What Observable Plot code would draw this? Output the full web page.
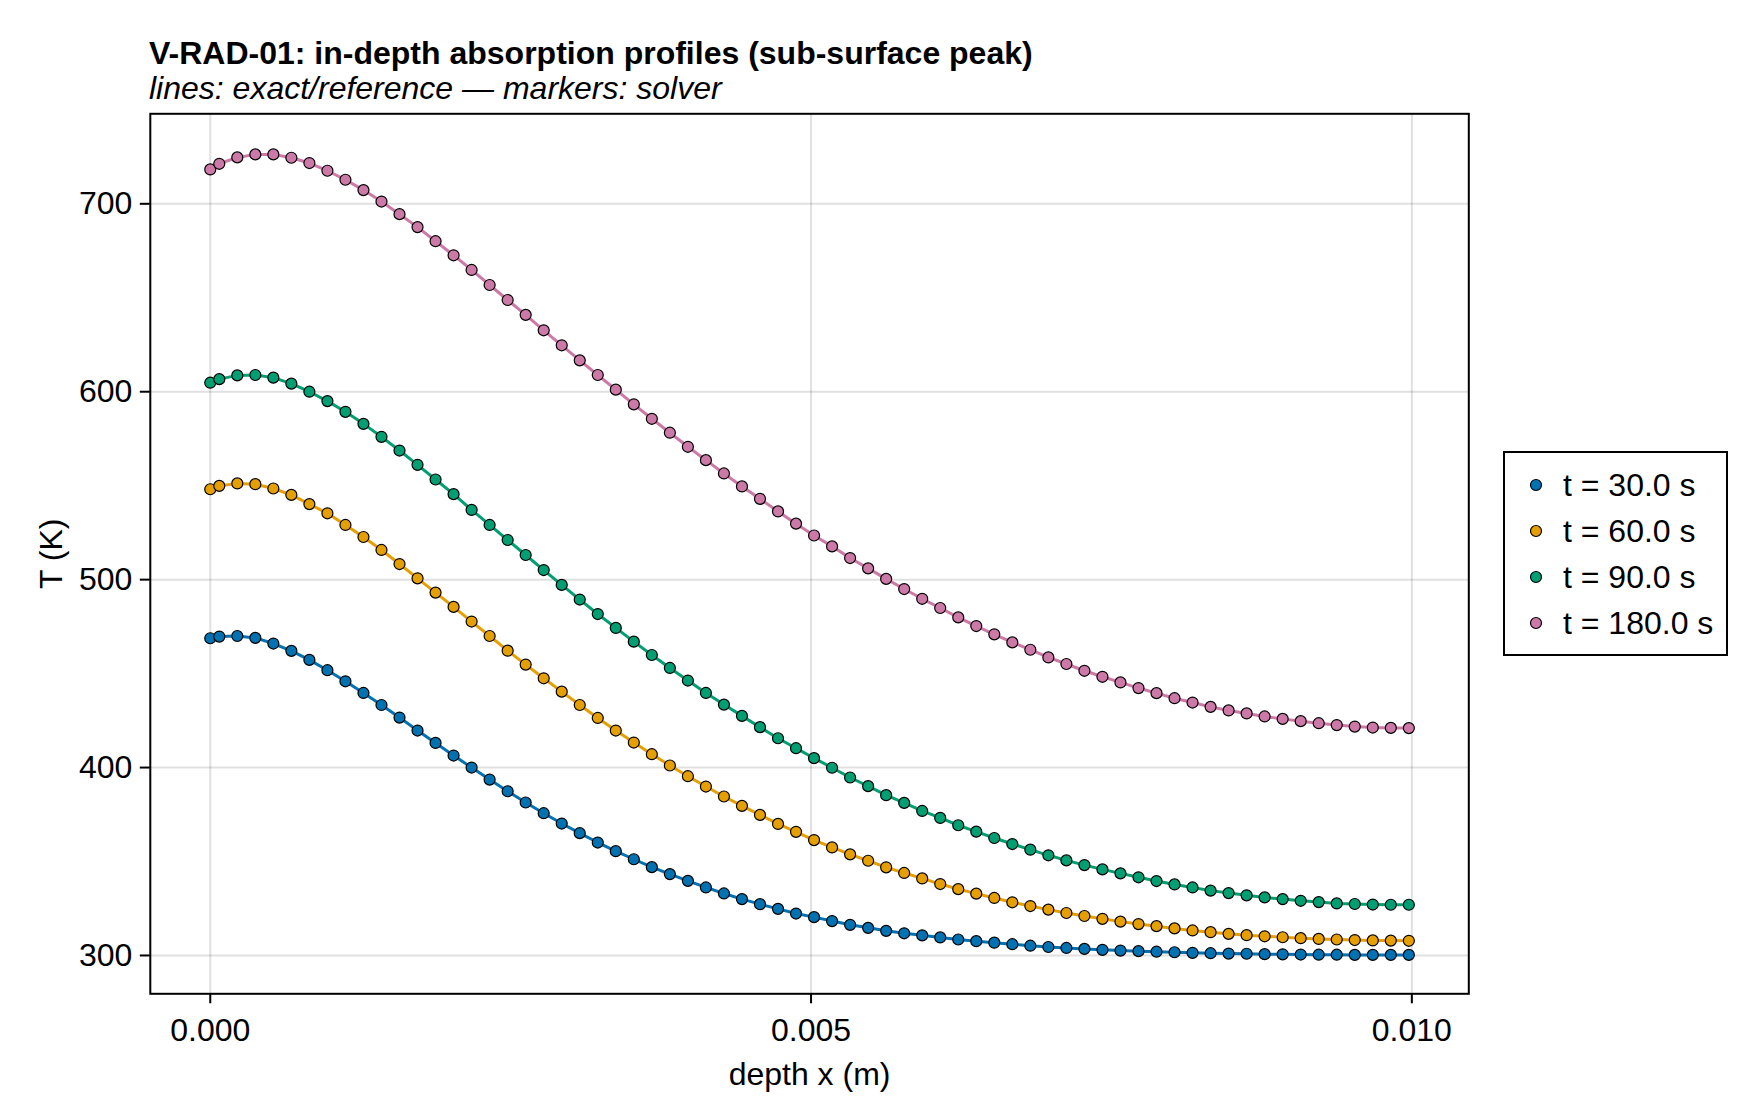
<!DOCTYPE html>
<html><head><meta charset="utf-8">
<script src="https://cdn.jsdelivr.net/npm/d3@7"></script>
<script src="https://cdn.jsdelivr.net/npm/@observablehq/plot@0.6"></script>
<style>
body{margin:0;background:#fff;font-family:"Liberation Sans",Arial,Helvetica,sans-serif;color:#000;}
#wrap{position:relative;width:1760px;height:1120px;overflow:hidden;background:#fff;}
.title{position:absolute;left:149px;top:37px;font-size:32px;line-height:32px;font-weight:bold;white-space:nowrap;}
.subtitle{position:absolute;left:149px;top:72px;font-size:32px;line-height:32px;font-style:italic;white-space:nowrap;}
#chart{position:absolute;left:0;top:100px;}
#legend{position:absolute;left:1503px;top:451px;width:221px;height:201px;border:2px solid #000;background:#fff;}
.item{position:absolute;left:0;width:221px;height:32px;}
.item svg{position:absolute;left:23px;top:8px;}
.item span{position:absolute;left:58px;top:0;font-size:32px;line-height:32px;white-space:nowrap;}
</style></head>
<body>
<div id="wrap">
  <div class="title">V-RAD-01: in-depth absorption profiles (sub-surface peak)</div>
  <div class="subtitle">lines: exact/reference — markers: solver</div>
  <div id="chart"></div>
  <div id="legend"></div>
</div>
<script>
// depth positions (m)
const xs = [0,
0.000075, 0.000225, 0.000375, 0.000525, 0.000675, 0.000825, 0.000975, 0.001125, 0.001275, 0.001425,
0.001575, 0.001725, 0.001875, 0.002025, 0.002175, 0.002325, 0.002475, 0.002625, 0.002775, 0.002925,
0.003075, 0.003225, 0.003375, 0.003525, 0.003675, 0.003825, 0.003975, 0.004125, 0.004275, 0.004425,
0.004575, 0.004725, 0.004875, 0.005025, 0.005175, 0.005325, 0.005475, 0.005625, 0.005775, 0.005925,
0.006075, 0.006225, 0.006375, 0.006525, 0.006675, 0.006825, 0.006975, 0.007125, 0.007275, 0.007425,
0.007575, 0.007725, 0.007875, 0.008025, 0.008175, 0.008325, 0.008475, 0.008625, 0.008775, 0.008925,
0.009075, 0.009225, 0.009375, 0.009525, 0.009675, 0.009825, 0.009975];

// temperatures (K)
const T30 = [
468.8, 469.7, 470.0, 469.0, 466.0, 462.1, 457.3, 451.8, 445.9, 439.7,
433.3, 426.6, 419.7, 413.1, 406.4, 400.0, 393.6, 387.4, 381.4, 375.7,
370.2, 365.1, 360.1, 355.5, 351.2, 347.0, 343.3, 339.7, 336.2, 333.0,
330.0, 327.3, 324.8, 322.3, 320.4, 318.3, 316.3, 314.7, 313.1, 311.8,
310.7, 309.6, 308.5, 307.6, 306.8, 306.0, 305.2, 304.5, 304.0, 303.5,
303.0, 302.6, 302.3, 302.0, 301.7, 301.4, 301.2, 301.0, 300.9, 300.7,
300.6, 300.5, 300.4, 300.4, 300.3, 300.3, 300.3, 300.3];
const T60 = [
548.1, 549.9, 551.2, 550.8, 548.5, 545.1, 540.2, 535.3, 529.1, 522.7,
515.8, 508.3, 500.7, 493.1, 485.5, 477.7, 470.0, 462.2, 454.8, 447.5,
440.4, 433.3, 426.4, 419.7, 413.3, 407.1, 401.1, 395.4, 389.9, 384.6,
379.6, 374.8, 370.0, 365.8, 361.4, 357.5, 353.8, 350.4, 346.9, 343.9,
341.0, 338.0, 335.3, 332.9, 330.6, 328.3, 326.3, 324.4, 322.6, 321.0,
319.5, 318.0, 316.7, 315.6, 314.4, 313.3, 312.4, 311.5, 310.8, 310.2,
309.7, 309.2, 308.8, 308.5, 308.2, 308.0, 307.9, 307.8];
const T90 = [
604.8, 606.7, 608.7, 608.9, 607.5, 604.3, 600.0, 595.0, 589.3, 582.9,
576.0, 568.7, 561.1, 553.3, 545.5, 537.1, 529.1, 521.1, 513.1, 505.1,
497.2, 489.4, 481.7, 474.3, 467.0, 459.9, 453.0, 446.3, 439.7, 433.5,
427.5, 421.5, 415.6, 410.3, 405.0, 399.9, 394.7, 390.1, 385.3, 381.2,
376.9, 373.2, 369.3, 365.9, 362.5, 359.3, 356.3, 353.3, 350.6, 348.1,
345.8, 343.7, 341.6, 339.6, 337.8, 336.2, 334.5, 333.2, 332.0, 330.9,
330.0, 329.1, 328.4, 327.7, 327.4, 327.1, 327.0, 327.0];
const T180 = [
718.3, 721.3, 724.7, 726.3, 726.3, 724.5, 721.7, 717.6, 712.8, 707.3,
701.2, 694.5, 687.6, 680.1, 672.6, 664.8, 656.8, 648.8, 640.9, 632.7,
624.7, 616.7, 608.9, 601.1, 593.3, 585.6, 578.2, 570.7, 563.6, 556.5,
549.6, 543.0, 536.3, 529.8, 523.5, 517.7, 511.5, 506.0, 500.4, 495.0,
489.8, 484.9, 479.9, 475.3, 470.9, 466.6, 462.7, 458.6, 455.1, 451.5,
448.3, 445.3, 442.3, 439.6, 436.9, 434.6, 432.3, 430.4, 428.8, 427.2,
425.9, 424.7, 423.6, 422.6, 421.8, 421.3, 421.1, 421.0];

const seriesLabels = ["t = 30.0 s", "t = 60.0 s", "t = 90.0 s", "t = 180.0 s"];
const seriesValues = [T30, T60, T90, T180];
const seriesColors = ["#0072B2", "#E69F00", "#009E73", "#CC79A7"];
const xTicks = [0, 0.005, 0.010];
const yTicks = [300, 400, 500, 600, 700];

const rows = seriesValues.flatMap((vals, s) =>
  vals.map((T, i) => ({x: xs[i], T, series: seriesLabels[s]})));

const FONT = '"Liberation Sans", Arial, Helvetica, sans-serif';

const chart = Plot.plot({
  width: 1760,
  height: 1020,
  marginTop: 13.3,
  marginBottom: 126.7,
  marginLeft: 149.8,
  marginRight: 291.7,
  style: {fontFamily: FONT, fontSize: "32px", background: "transparent", color: "#000", overflow: "visible"},
  x: {domain: [-0.000499, 0.010474]},
  y: {domain: [279.6, 747.9]},
  color: {domain: seriesLabels, range: seriesColors},
  marks: [
    Plot.gridX(xTicks, {stroke: "#000", strokeOpacity: 0.12, strokeWidth: 2}),
    Plot.gridY(yTicks, {stroke: "#000", strokeOpacity: 0.12, strokeWidth: 2}),
    Plot.line(rows, {x: "x", y: "T", z: "series", stroke: "series", strokeWidth: 3}),
    Plot.dot(rows, {x: "x", y: "T", fill: "series", stroke: "#000", strokeWidth: 1.2, r: 5.5}),
    Plot.frame({stroke: "#000", strokeWidth: 2}),
    Plot.axisX(xTicks, {tickSize: 10, tickPadding: 14, tickFormat: d3.format(".3f"), fontSize: 32, label: null, strokeWidth: 2}),
    Plot.axisY(yTicks, {tickSize: 10, tickPadding: 8, tickFormat: d3.format("d"), fontSize: 32, label: null, strokeWidth: 2}),
    Plot.text(["depth x (m)"], {text: d => d, frameAnchor: "bottom", lineAnchor: "middle", textAnchor: "middle", dy: 81, fontSize: 32}),
    Plot.text(["T (K)"], {text: d => d, frameAnchor: "left", lineAnchor: "middle", textAnchor: "middle", dx: -99, rotate: -90, fontSize: 32})
  ]
});
document.getElementById("chart").appendChild(chart);

// legend
const legend = document.getElementById("legend");
seriesLabels.forEach((lab, i) => {
  const item = document.createElement("div");
  item.className = "item";
  item.style.top = (32 + 45.9 * i - 16) + "px";
  item.innerHTML = `<svg width="16" height="16"><circle cx="8" cy="8" r="5.5" fill="${seriesColors[i]}" stroke="#000" stroke-width="1.2"/></svg><span></span>`;
  item.querySelector("span").textContent = lab;
  legend.appendChild(item);
});
</script>
</body></html>
